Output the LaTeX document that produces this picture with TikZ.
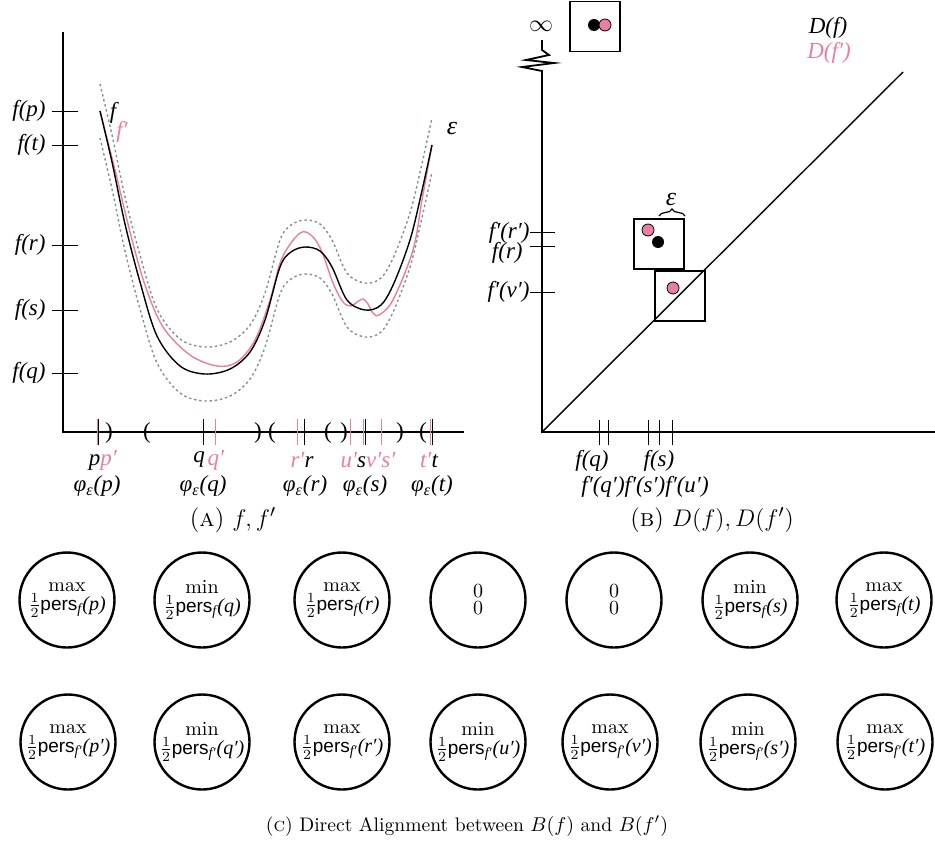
\documentclass[tikz,border=0pt]{standalone}
\usepackage{fontspec}
\newfontfamily\tm{Liberation Serif}
\newfontfamily\hv{Liberation Sans}
\usetikzlibrary{decorations.pathreplacing}
\definecolor{pk}{RGB}{234,126,162}
\definecolor{dg}{RGB}{128,145,140}
\newcommand{\hp}[2]{$\frac{1}{2}$\kern-0.3pt{\hv\fontsize{9.5}{11}\selectfont pers}\textsubscript{{\tm\itshape #1}}{\tm\itshape(#2)}}
\begin{document}
\begin{tikzpicture}[x=0.5pt,y=-0.5pt,
  axis/.style={line width=0.9pt},
  tk/.style={line width=0.5pt},
  lbl/.style={font=\tm\itshape\fontsize{11.5}{13}\selectfont, inner sep=0pt},
  par/.style={font=\tm\fontsize{11.5}{13}\selectfont, inner sep=0pt},
  circ/.style={circle, draw, line width=1.2pt, minimum size=47.5pt, inner sep=0pt},
  ctext/.style={align=center, inner sep=0pt, font=\fontsize{10}{10.5}\selectfont},
  pdot/.style={circle, fill=pk, draw=black, line width=0.4pt, inner sep=0pt, minimum size=6pt},
  bdot/.style={circle, fill=black, inner sep=0pt, minimum size=6pt},
  pbox/.style={draw, line width=0.6pt, minimum size=25pt, inner sep=0pt},
  fcurve/.style={line width=0.7pt},
  band/.style={dg, line width=0.7pt, dash pattern=on 1.2pt off 1.4pt},
  captxt/.style={font=\fontsize{12.5}{14}\selectfont}
]
\useasboundingbox (0,0) rectangle (935,846);

% ---------- left plot ----------
\coordinate (lo) at (63,432);
\coordinate (ltop) at (63,32);
\coordinate (lright) at (464,432);
\draw[axis] (ltop) -- (lo) -- (lright);

\foreach \y/\t in {111/p,145/t,245/r,310/s,373/q}{
  \draw[tk] (52,\y) -- (78,\y);
  \node[lbl, anchor=east] at (46,\y) {f(\t)};
}

\def\fpath{(100,111) (112,162) (125,224) (140,282) (157,336) (180,366) (205,374) (230,369) (250,352) (265,320) (280,267) (291,252) (305,247) (320,251) (332,267) (347,300) (365,310) (381,305) (394,283) (410,240) (421,195) (432,145)}
\draw[band, yshift=13.5pt] plot[smooth, tension=0.55] coordinates {\fpath};
\draw[band, yshift=-13.5pt] plot[smooth, tension=0.55] coordinates {\fpath};
\draw[pk, fcurve] plot[smooth, tension=0.55] coordinates {(100,111) (115,170) (130,232) (145,285) (163,327) (190,355) (217,366) (237,362) (255,340) (270,300) (282,258) (300,233) (312,236) (322,252) (333,283) (343,302) (351,306) (357,302) (363,299) (368,304) (373,313) (379,315) (393,300) (413,250) (422,200) (432,145)};
\draw[fcurve] plot[smooth, tension=0.55] coordinates {\fpath};

\node[lbl] (lf) at (113,113) {f};
\node[lbl, text=pk] (lfp) at (122,132) {f′};
\node[lbl, font=\tm\itshape\fontsize{13}{14}\selectfont] (leps) at (452,128) {ε};

% x ticks
\foreach \x in {203,304,365,432}{\draw[tk] (\x,419) -- (\x,445);}
\foreach \x in {97,215,297,350,363,381,430}{\draw[tk, pk] (\x,419) -- (\x,445);}
\draw[tk] (98.5,419) -- (98.5,445);
\draw[tk] (432,419) -- (432,445);
% interval parentheses
\foreach \x/\c in {109/),258/),344/),400/)}{\node[par] at (\x,433) {\c};}
\foreach \x/\c in {147/(,272/(,328/(,423/(}{\node[par] at (\x,433) {\c};}

\node[lbl] at (103,460) {p\textcolor{pk}{p′}};
\node[lbl] at (199,460) {q};
\node[lbl, text=pk] at (216,460) {q′};
\node[lbl] at (302,460) {\textcolor{pk}{r′}r};
\node[lbl] at (368,460) {\textcolor{pk}{u′}s\textcolor{pk}{v′s′}};
\node[lbl] at (429,460) {\textcolor{pk}{t′}t};
\foreach \x/\t in {97/p,203/q,305/r,365/s,432/t}{
  \node[lbl] at (\x,486) {φ\textsubscript{ε}(\t)};
}

\node[captxt] (capA) at (233,520) {(\textsc{a})\ $f,f'$};

% ---------- right plot ----------
\coordinate (ro) at (542,432);
\coordinate (rright) at (935,432);
\coordinate (rdiag) at (903,72);
\draw[axis] (542,40) -- (542,50) -- (549,55) -- (526,60) -- (554,63) -- (522,67) -- (542,71) -- (ro) -- (rright);
\draw[line width=0.7pt] (ro) -- (rdiag);
\node[font=\fontsize{12.5}{14}\selectfont] (inf) at (541,26) {$\infty$};

\node[pbox] (boxinf) at (595,26.5) {};
\node[bdot] (dinf) at (594,25) {};
\node[pdot] (dinfp) at (605,25) {};

\node[lbl] (Df) at (828,28) {D(f)};
\node[lbl, text=pk] (Dfp) at (829,53) {D(f′)};

\node[pbox] (box1) at (659,244) {};
\node[pdot] (d1p) at (648,230) {};
\node[bdot] (d1) at (658,242) {};
\node[pbox] (box2) at (680,296) {};
\node[pdot] (d2p) at (673,288) {};
\draw[decorate, decoration={brace, amplitude=3.5pt}, line width=0.6pt] (659,216) -- (685,216);
\node[lbl, font=\tm\itshape\fontsize{13}{14}\selectfont] (reps) at (671,199) {ε};

\foreach \y in {232,246,292}{\draw[tk] (530,\y) -- (555,\y);}
\node[lbl, anchor=east] at (530,233) {f′(r′)};
\node[lbl, anchor=east] at (523,253) {f(r)};
\node[lbl, anchor=east] at (530,292) {f′(v′)};

\foreach \x in {599,608,648,659,672}{\draw[tk] (\x,420) -- (\x,445);}
\node[lbl] at (592,461) {f(q)};
\node[lbl] at (659,461) {f(s)};
\node[lbl] at (603,487) {f′(q′)};
\node[lbl] at (645,487) {f′(s′)};
\node[lbl] at (687,487) {f′(u′)};

\node[captxt] (capB) at (712,520) {(\textsc{b})\ $D(f),D(f')$};

% ---------- circles ----------
\foreach \n/\x/\k/\v in {1/67/max/p,2/202/min/q,3/342/max/r,6/750/min/s,7/884/max/t}{
  \node[circ] (a\n) at (\x,600) {};
  \node[ctext] at (a\n.center) {\k\\[-1pt]\hp{f}{\v}};
}
\foreach \n/\x in {4/478,5/614}{
  \node[circ] (a\n) at (\x,600) {};
  \node[ctext] at (a\n.center) {0\\[-2pt]0};
}
\foreach \n/\x/\k/\v in {1/68/max/p′,2/202/min/q′,3/342/max/r′,4/478/min/u′,5/610/max/v′,6/748/min/s′,7/885/max/t′}{
  \node[circ] (b\n) at (\x,742) {};
  \node[ctext] at (b\n.center) {\k\\[-1pt]\hp{f′}{\v}};
}

\node[font=\fontsize{9.8}{11}\selectfont] (capC) at (467,826) {(\textsc{c})\ Direct Alignment between $B(f)$ and $B(f')$};
\end{tikzpicture}
\end{document}
